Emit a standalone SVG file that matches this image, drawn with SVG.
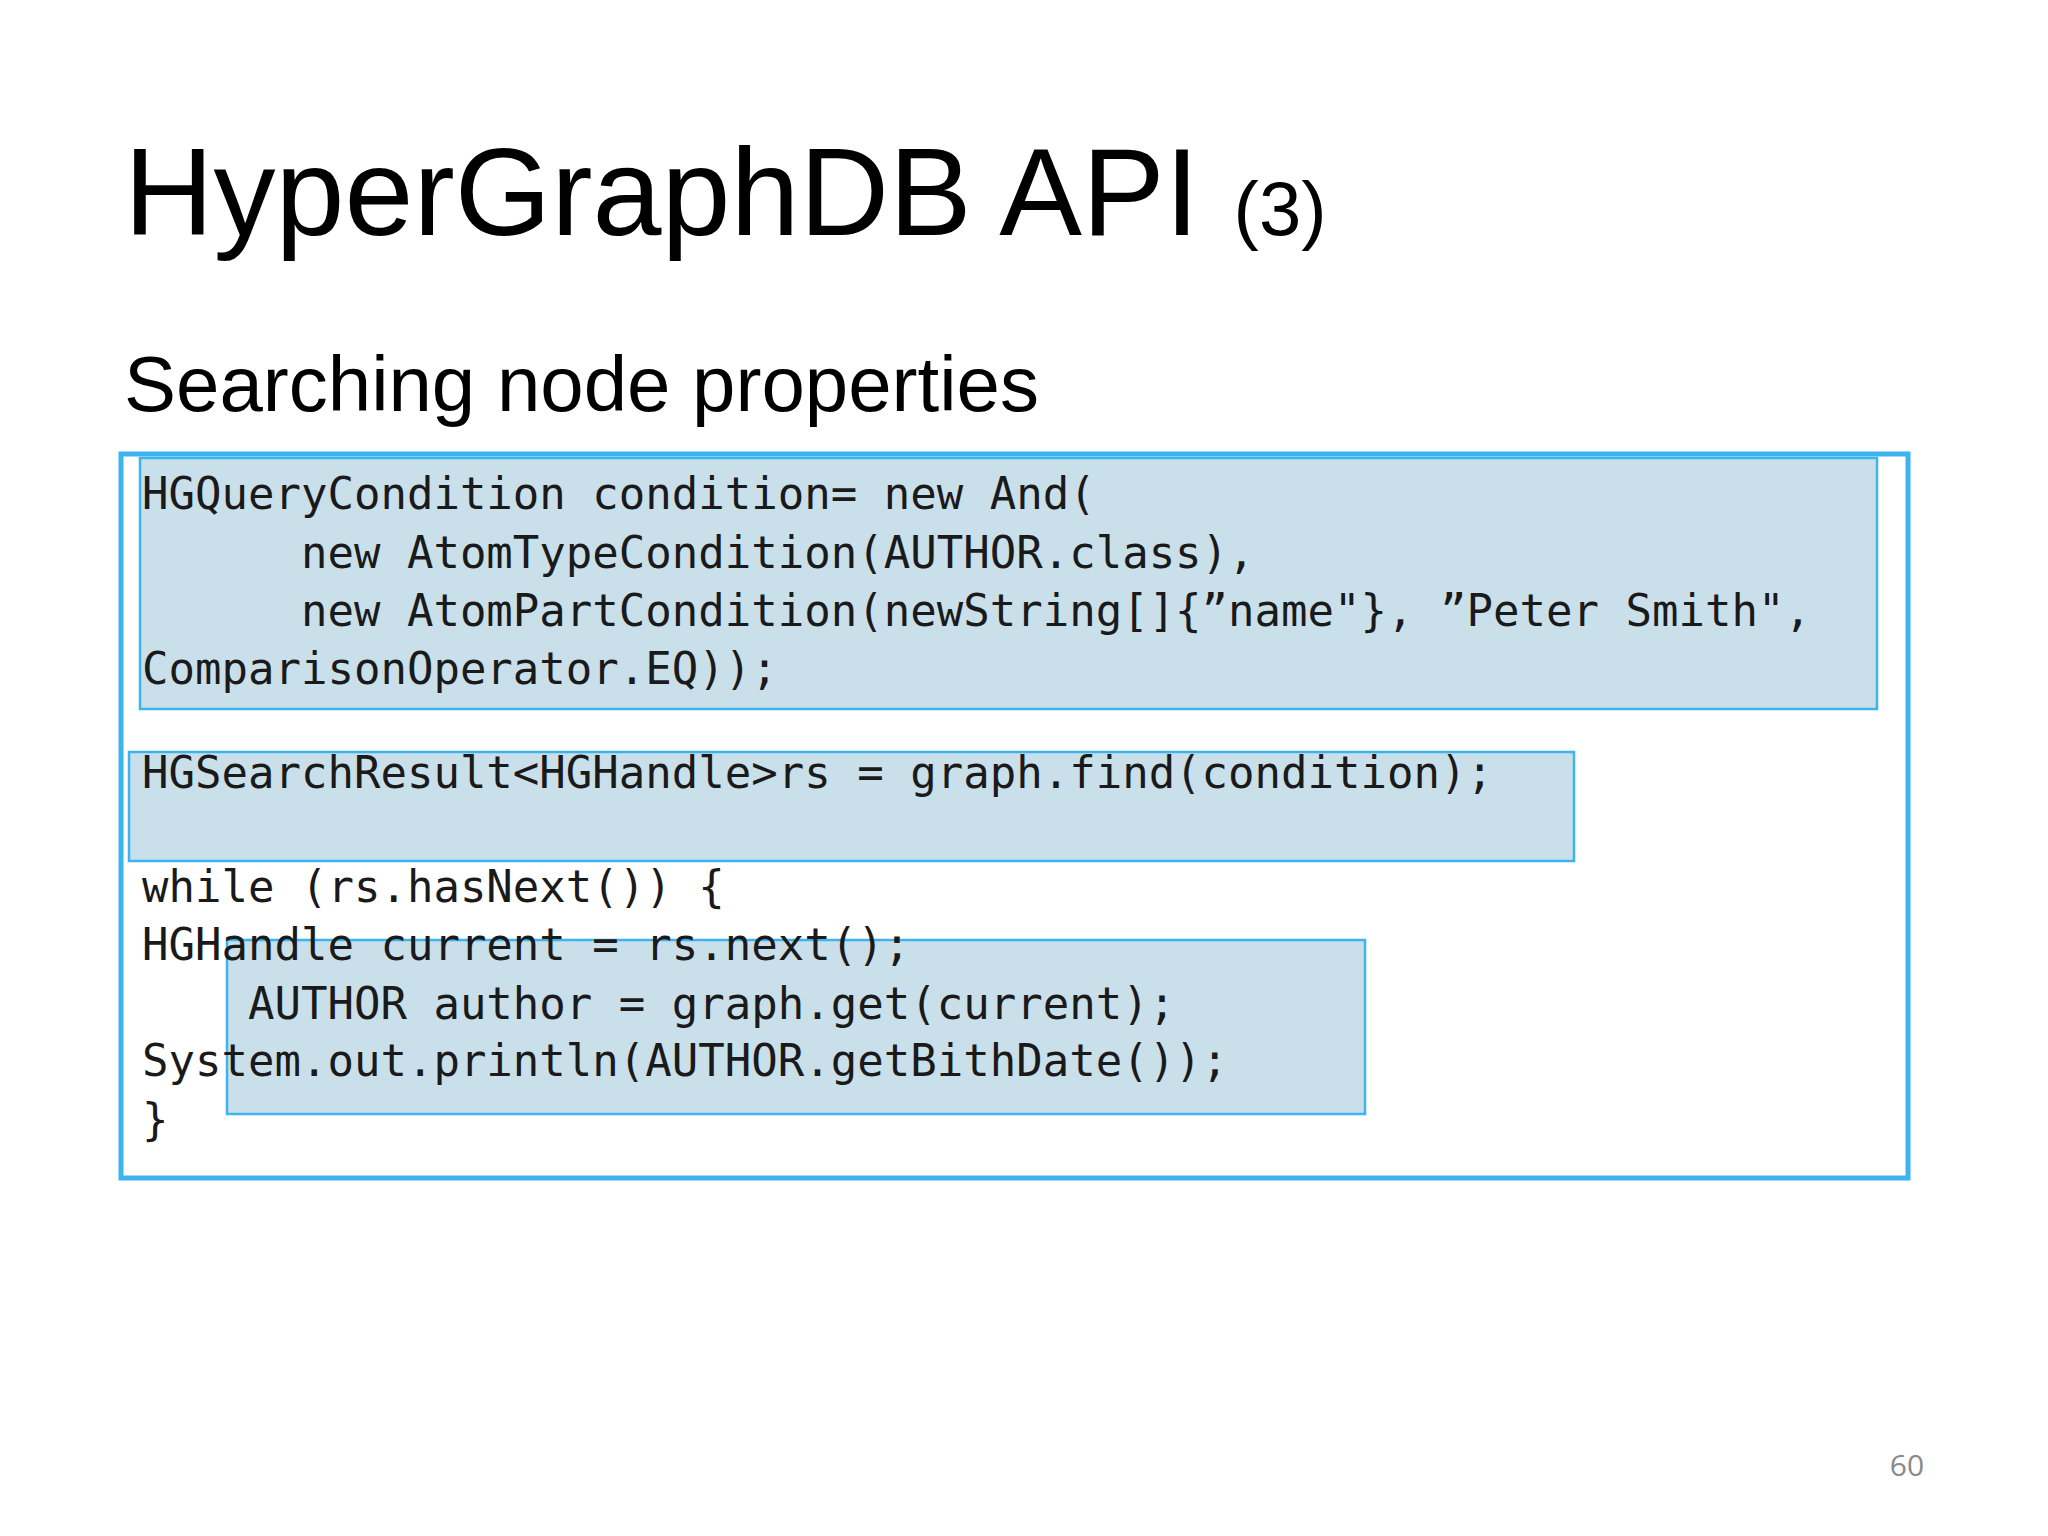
<svg xmlns="http://www.w3.org/2000/svg" width="2048" height="1536" viewBox="0 0 2048 1536">
<style>
.hl{fill:#c9dfea;stroke:#3cb4f0;stroke-width:2.5}
.code{font-family:"DejaVu Sans Mono","Liberation Mono",monospace;font-size:44px;fill:#1a1a1a;white-space:pre}
.h{font-family:"Liberation Sans",Arial,sans-serif;fill:#000}
</style>
<rect width="2048" height="1536" fill="#fff"/>
<text class="h" x="124" y="235" font-size="124">HyperGraphDB API <tspan font-size="76">(3)</tspan></text>
<text class="h" x="124" y="411" font-size="78">Searching node properties</text>
<g id="box1"><rect class="hl" x="140" y="458" width="1737" height="251"/></g>
<g id="box2"><rect class="hl" x="129" y="752" width="1445" height="109"/></g>
<g id="box3"><rect class="hl" x="227" y="940" width="1138" height="174"/></g>
<g id="outer"><rect x="121" y="454" width="1787" height="724" fill="none" stroke="#3cb4f0" stroke-width="5"/></g>
<g id="code" class="code">
<text x="142" y="509" xml:space="preserve">HGQueryCondition condition= new And(</text>
<text x="142" y="568" xml:space="preserve">      new AtomTypeCondition(AUTHOR.class),</text>
<text x="142" y="626" xml:space="preserve">      new AtomPartCondition(newString[]{”name"}, ”Peter Smith",</text>
<text x="142" y="684" xml:space="preserve">ComparisonOperator.EQ));</text>
<text x="142" y="788" xml:space="preserve">HGSearchResult&lt;HGHandle&gt;rs = graph.find(condition);</text>
<text x="142" y="902" xml:space="preserve">while (rs.hasNext()) {</text>
<text x="142" y="960" xml:space="preserve">HGHandle current = rs.next();</text>
<text x="142" y="1019" xml:space="preserve">    AUTHOR author = graph.get(current);</text>
<text x="142" y="1076" xml:space="preserve">System.out.println(AUTHOR.getBithDate());</text>
<text x="142" y="1135" xml:space="preserve">}</text>
</g>
<text x="1907" y="1476" font-family="'Open Sans',sans-serif" font-size="30" fill="#8a8a8a" text-anchor="middle">60</text>
</svg>
